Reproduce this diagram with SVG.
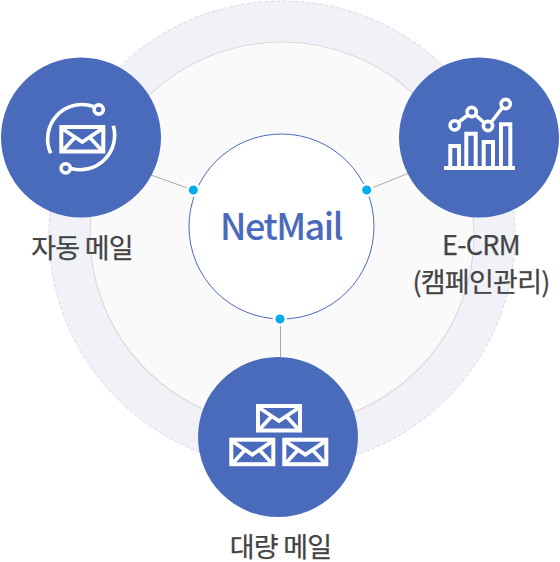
<svg xmlns="http://www.w3.org/2000/svg" width="560" height="562" viewBox="0 0 560 562">
<style>
.hub{fill:#4a6bbc}
.lbl{font-family:"Noto Sans CJK KR","Noto Sans",sans-serif;font-size:27px;font-weight:400;fill:#444;stroke:#444;stroke-width:.25;text-anchor:middle;letter-spacing:-.75px}
.ic{fill:none;stroke:#fff;stroke-width:3.6}
.conn{stroke:#aaa;stroke-width:1;fill:none}
.dot{fill:#00aeef;stroke:#fff;stroke-width:2.5}
</style>
<defs>
<g id="env">
<rect x="2" y="2" width="42" height="24.500" fill="none" stroke="#fff" stroke-width="4"/>
<path d="M2 3L23 17L44 3M2 27L15.500 12.500M44 27L30.500 12.500" fill="none" stroke="#fff" stroke-width="3.800"/>
</g>
</defs>
<g id="backdrop">
<circle cx="282" cy="234" r="233" fill="#f1f2f8" stroke="#d9dbe3" stroke-width="1" stroke-dasharray="4 2"/>
<circle cx="282" cy="234" r="192" fill="#fafafa" stroke="#dcdcdc" stroke-width="1.200"/>
</g>
<g id="connectors">
<path class="conn" d="M151 175L193 190M409 173L367 190M280.500 319V358"/>
</g>
<g id="center">
<circle cx="281.500" cy="226.500" r="92.500" fill="#fff" stroke="#4a6bbc" stroke-width="1"/>
<text x="281" y="240" font-family="'Noto Sans CJK KR','Noto Sans',sans-serif" font-size="36" font-weight="500" fill="#4a6bbc" text-anchor="middle" letter-spacing="-1.500">NetMail</text>
<circle class="dot" cx="193.300" cy="190" r="5.800"/>
<circle class="dot" cx="366.700" cy="190" r="5.800"/>
<circle class="dot" cx="280" cy="319" r="5.800"/>
</g>
<g id="auto-mail">
<circle class="hub" cx="81" cy="137.500" r="80"/>
<use href="#env" x="59.300" y="125"/>
<path class="ic" d="M50.700 153.300A34.500 34.500 0 0 1 93.500 106.500"/>
<path class="ic" d="M113.300 125.700A34.500 34.500 0 0 1 71 168.500"/>
<circle class="ic" cx="98.700" cy="109.500" r="4.600"/>
<circle class="ic" cx="65.700" cy="168.300" r="4.600"/>
<text class="lbl" x="82" y="257.500">자동 메일</text>
</g>
<g id="e-crm">
<circle class="hub" cx="479" cy="137.500" r="80"/>
<path class="ic" style="stroke-width:4" d="M450.300 166V146H459V166M466.300 166V133.700H475.700V166M483.700 166V142H493V166M501 166V124.300H510.300V166"/>
<rect x="444" y="166" width="71" height="4" fill="#fff"/>
<path class="ic" d="M458 122.500L468 115M475.500 115L484.500 123M491 122.500L502.500 107.500"/>
<circle class="ic" cx="454.700" cy="125.300" r="4.600"/>
<circle class="ic" cx="471.700" cy="112" r="4.600"/>
<circle class="ic" cx="488" cy="126" r="4.600"/>
<circle class="ic" cx="505.700" cy="104" r="4.600"/>
<text class="lbl" x="481" y="255">E-CRM</text>
<text class="lbl" x="481" y="292">(캠페인관리)</text>
</g>
<g id="bulk-mail">
<circle class="hub" cx="278" cy="437" r="80"/>
<use href="#env" x="256" y="404"/>
<use href="#env" x="229.300" y="437.700"/>
<use href="#env" x="282.300" y="437.700"/>
<text class="lbl" x="280.500" y="557">대량 메일</text>
</g>
</svg>
